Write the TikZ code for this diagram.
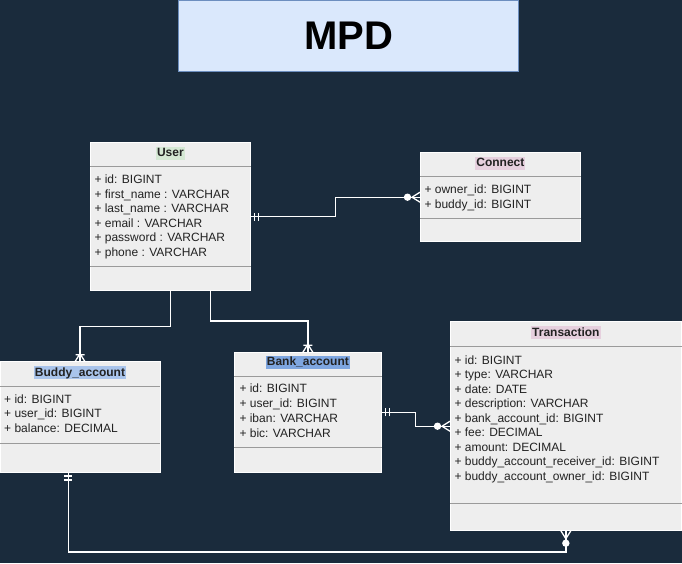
\documentclass[tikz,border=0pt]{standalone}
\usepackage{fontspec}
\setmainfont{Liberation Sans}
\usetikzlibrary{calc}
\definecolor{bg}{HTML}{1A2B3C}
\definecolor{boxfill}{HTML}{EEEEEE}
\definecolor{sepgray}{HTML}{9A9A9A}
\definecolor{titlefill}{HTML}{DAE8FC}
\definecolor{titledraw}{HTML}{6C8EBF}
\definecolor{hlgreen}{HTML}{D5E8D4}
\definecolor{hlpink}{HTML}{E6D0DE}
\definecolor{hlblue}{HTML}{A9C4EB}
\definecolor{hlbluedark}{HTML}{7EA6E0}
\definecolor{txt}{HTML}{222222}
\begin{document}
\begin{tikzpicture}[x=1pt,y=-1pt,
  entity/.style={draw=white, line width=1pt, fill=boxfill, rectangle, anchor=north west, inner sep=0pt, outer sep=0pt},
  sepline/.style={draw=sepgray, line width=1pt},
  etitle/.style={font=\fontsize{12}{14}\selectfont\bfseries, text=txt, inner xsep=1pt, inner ysep=0pt, text height=9.8pt, text depth=3.2pt},
  attr/.style={font=\fontsize{12}{14}\selectfont, text=txt, anchor=base west, inner sep=0pt},
  conn/.style={draw=white, line width=1.3pt},
  mandone/.pic={\draw[conn] (-4,-4) -- (-4,4) (-8,-4) -- (-8,4);},
  onemany/.pic={\draw[conn] (-8,0) -- (0,-5) (-8,0) -- (0,5) (-7,-4.5) -- (-7,4.5);},
  zeromany/.pic={\draw[conn] (-8,0) -- (0,-5) (-8,0) -- (0,5); \fill[white] (-12.5,0) circle (3.7);}
]
\fill[bg] (0,0) rectangle (682,563);
\useasboundingbox (0,0) rectangle (682,563);

% title
\node[draw=titledraw, fill=titlefill, line width=1pt, minimum width=340pt, minimum height=71pt,
      anchor=north west, inner sep=0pt, font=\fontsize{40}{48}\selectfont\bfseries] (title) at (178.3,-0.5) {MPD};

% entities
\node[entity, minimum width=160.7pt, minimum height=148pt] (user) at (90,142.7) {};
\node[entity, minimum width=160.7pt, minimum height=89pt] (connect) at (420,152.7) {};
\node[entity, minimum width=160pt, minimum height=110.3pt] (buddy) at (0,361.7) {};
\node[entity, minimum width=147.7pt, minimum height=120pt] (bank) at (234,352.3) {};
\node[entity, minimum width=231.7pt, minimum height=209pt] (trans) at (450,321.7) {};

% header / separator lines
\draw[sepline] ($(user.north west)+(0,24)$) -- ($(user.north east)+(0,24)$);
\draw[sepline] ($(user.north west)+(0,124)$) -- ($(user.north east)+(0,124)$);
\draw[sepline] ($(connect.north west)+(0,23.5)$) -- ($(connect.north east)+(0,23.5)$);
\draw[sepline] ($(connect.north west)+(0,65.6)$) -- ($(connect.north east)+(0,65.6)$);
\draw[sepline] ($(buddy.north west)+(0,25)$) -- ($(buddy.north east)+(0,25)$);
\draw[sepline] ($(buddy.north west)+(0,81.6)$) -- ($(buddy.north east)+(0,81.6)$);
\draw[sepline] ($(bank.north west)+(0,24.4)$) -- ($(bank.north east)+(0,24.4)$);
\draw[sepline] ($(bank.north west)+(0,95)$) -- ($(bank.north east)+(0,95)$);
\draw[sepline] ($(trans.north west)+(0,24.3)$) -- ($(trans.north east)+(0,24.3)$);
\draw[sepline] ($(trans.north west)+(0,181.6)$) -- ($(trans.north east)+(0,181.6)$);

% entity titles
\node[etitle, fill=hlgreen] (usert) at ($(user.north)+(0,10.8)$) {User};
\node[etitle, fill=hlpink] (connectt) at ($(connect.north)+(0,10.3)$) {Connect};
\node[etitle, fill=hlblue] (buddyt) at ($(buddy.north)+(0,11)$) {Buddy\_account};
\node[etitle, fill=hlbluedark] (bankt) at ($(bank.north)+(0,10.3)$) {Bank\_account};
\node[etitle, fill=hlpink] (transt) at ($(trans.north)+(0,11)$) {Transaction};

% attributes
\foreach [count=\i] \t in {+ id: BIGINT, + first\_name : VARCHAR, + last\_name : VARCHAR, + email : VARCHAR, + password : VARCHAR, + phone : VARCHAR}
  \node[attr] (ua\i) at (94.3,{183.5+14.6*(\i-1)}) {\t};
\foreach [count=\i] \t in {+ owner\_id: BIGINT, + buddy\_id: BIGINT}
  \node[attr] (ca\i) at (424.3,{193.8+14.6*(\i-1)}) {\t};
\foreach [count=\i] \t in {+ id: BIGINT, + user\_id: BIGINT, + balance: DECIMAL}
  \node[attr] (ba\i) at (4,{403.3+14.6*(\i-1)}) {\t};
\foreach [count=\i] \t in {+ id: BIGINT, + user\_id: BIGINT, + iban: VARCHAR, + bic: VARCHAR}
  \node[attr] (ka\i) at (239.3,{392.8+14.8*(\i-1)}) {\t};
\foreach [count=\i] \t in {+ id: BIGINT, + type: VARCHAR, + date: DATE, + description: VARCHAR, + bank\_account\_id: BIGINT, + fee: DECIMAL, + amount: DECIMAL, + buddy\_account\_receiver\_id: BIGINT, + buddy\_account\_owner\_id: BIGINT}
  \node[attr] (ta\i) at (454.3,{364+14.5*(\i-1)}) {\t};

% connectors
\draw[conn] (user.east) -- ++(85,0) |- (connect.west);
\draw[conn] (user.south) -- ++(0,35.6) -| (buddy.north);
\draw[conn] ($(user.south)+(40,0)$) -- ++(0,30.3) -| (bank.north);
\draw[conn] (bank.east) -- ++(33.6,0) |- (trans.west);
\draw[conn] ($(buddy.south)+(-11.7,0)$) -- ++(0,80) -| (trans.south);

% markers
\pic[rotate=180] at (user.east) {mandone};
\pic at (connect.west) {zeromany};
\pic[rotate=-90] at (buddy.north) {onemany};
\pic[rotate=-90] at (bank.north) {onemany};
\pic[rotate=180] at (bank.east) {mandone};
\pic at (trans.west) {zeromany};
\pic[rotate=90] at ($(buddy.south)+(-11.7,0)$) {mandone};
\pic[rotate=90] at (trans.south) {zeromany};
\end{tikzpicture}
\end{document}
